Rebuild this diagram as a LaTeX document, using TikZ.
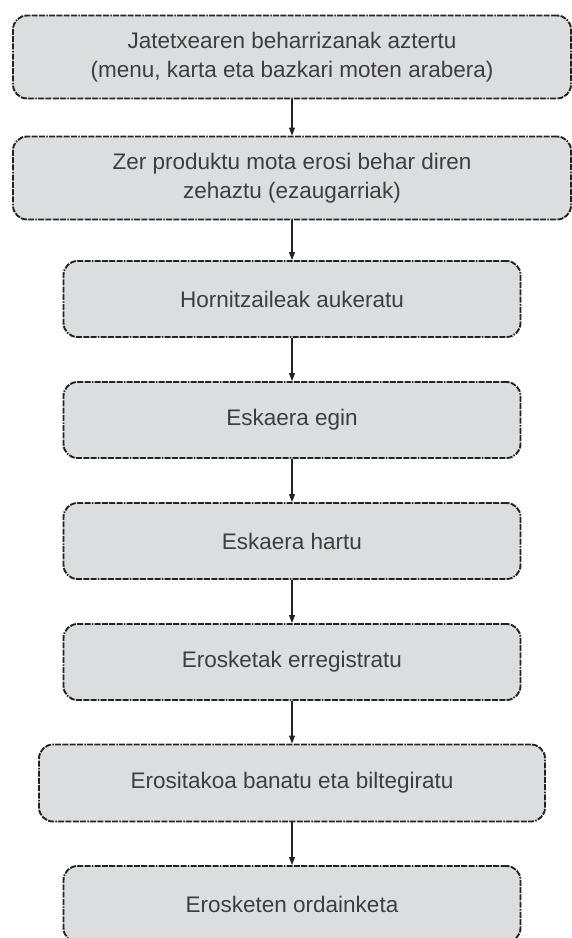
\documentclass[tikz,border=0pt]{standalone}
\usepackage{fontspec}
\setmainfont{Liberation Sans}
\usepackage{tikz}
\usetikzlibrary{arrows.meta,positioning}

\definecolor{boxfill}{RGB}{220,221,223}
\definecolor{boxline}{RGB}{35,35,35}
\definecolor{txtgray}{RGB}{62,62,62}

\tikzset{
  stepbox/.style={draw=boxline, fill=boxfill, line width=1.9pt,
    dash pattern=on 6pt off 1.3pt on 6pt off 1.3pt on 6pt off 1.3pt on 6pt off 1.3pt on 1.5pt off 1.3pt,
    rounded corners=14pt, minimum width=457pt, minimum height=76pt,
    align=center, text=txtgray, font=\fontsize{22.5}{29}\selectfont},
  widebox/.style={stepbox, minimum width=558pt, minimum height=83pt},
}

\begin{document}
\begin{tikzpicture}[>={Triangle[length=8pt,width=6pt]}, node distance=121pt]

  \useasboundingbox (0,0) rectangle (571pt,-938pt);

  \node [widebox] (B1) at (292pt,-57pt) {Jatetxearen beharrizanak aztertu\\(menu, karta eta bazkari moten arabera)};
  \node [widebox, below of = B1] (B2) {Zer produktu mota erosi behar diren\\zehaztu (ezaugarriak)};
  \node [stepbox, below of = B2] (B3) {Hornitzaileak aukeratu};
  \node [stepbox, below of = B3] (B4) {Eskaera egin};
  \node [stepbox, below of = B4] (B5) {Eskaera hartu};
  \node [stepbox, below of = B5] (B6) {Erosketak erregistratu};
  \node [stepbox, minimum width=506pt, minimum height=77pt, below of = B6] (B7) {Erositakoa banatu eta biltegiratu};
  \node [stepbox, below of = B7] (B8) {Erosketen ordainketa};

  \draw [->, line width=1.2pt, boxline] (B1) -- (B2);
  \draw [->, line width=1.2pt, boxline] (B2) -- (B3);
  \draw [->, line width=1.2pt, boxline] (B3) -- (B4);
  \draw [->, line width=1.2pt, boxline] (B4) -- (B5);
  \draw [->, line width=1.2pt, boxline] (B5) -- (B6);
  \draw [->, line width=1.2pt, boxline] (B6) -- (B7);
  \draw [->, line width=1.2pt, boxline] (B7) -- (B8);

\end{tikzpicture}
\end{document}
